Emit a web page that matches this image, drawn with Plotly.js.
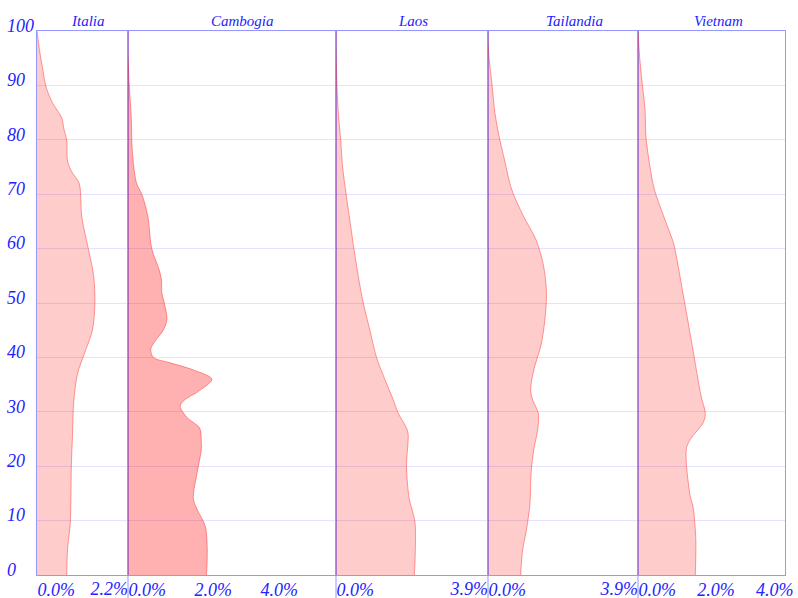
<!DOCTYPE html>
<html>
<head>
<meta charset="utf-8">
<script src="https://cdn.plot.ly/plotly-3.0.1.min.js"></script>
<style>html,body{margin:0;padding:0;background:#fff;}#chart{width:798px;height:598px;}</style>
</head>
<body>
<div id="chart"></div>
<script>
// Countries (panel titles)
const countries = ["Italia", "Cambogia", "Laos", "Tailandia", "Vietnam"];

// Age (y) and share of population in % (x) for each country
const italiaAge = [0, 5, 9, 14, 20, 26, 32, 37, 41, 45, 50, 55, 60, 66, 69, 72, 74, 76, 80, 82, 84, 87, 90, 93, 96, 100];
const italiaPct = [0.72, 0.74, 0.80, 0.82, 0.83, 0.86, 0.89, 0.98, 1.16, 1.34, 1.40, 1.37, 1.24, 1.08, 1.06, 1.02, 0.85, 0.74, 0.72, 0.65, 0.60, 0.36, 0.21, 0.14, 0.07, 0];

const cambogiaAge = [0, 5, 9, 12, 14, 19, 23, 24.5, 27, 29, 31, 32, 34, 36, 37.7, 39, 40, 41.5, 43, 45, 47, 50, 52, 54, 56, 60, 66, 70, 72, 78, 84, 90, 96, 100];
const cambogiaPct = [2.38, 2.40, 2.34, 2.10, 1.98, 2.10, 2.22, 2.22, 2.17, 1.78, 1.58, 1.68, 2.19, 2.54, 1.98, 1.28, 0.77, 0.69, 0.82, 1.07, 1.18, 1.10, 1.02, 1.02, 0.95, 0.72, 0.60, 0.42, 0.26, 0.13, 0.10, 0.04, 0, 0];

const laosAge = [0, 3, 9.5, 11.3, 14, 20, 26, 27.3, 29.7, 32.2, 35, 40, 45, 50, 55, 60, 65, 70, 75, 80, 85, 91, 95, 100];
const laosPct = [2.01, 2.03, 2.03, 1.98, 1.88, 1.81, 1.85, 1.79, 1.60, 1.47, 1.31, 1.04, 0.87, 0.70, 0.57, 0.46, 0.36, 0.26, 0.17, 0.12, 0.06, 0.02, 0.005, 0];

const tailandiaAge = [0, 4.6, 8.3, 13, 18.7, 23, 26.7, 29.7, 32.2, 34, 37.7, 42.3, 47, 52, 57, 61.6, 66, 71, 76, 80.6, 85, 90.4, 95, 98.3, 100];
const tailandiaPct = [0.85, 0.90, 1.00, 1.09, 1.12, 1.19, 1.29, 1.31, 1.16, 1.11, 1.19, 1.38, 1.48, 1.52, 1.44, 1.25, 0.92, 0.61, 0.44, 0.29, 0.18, 0.10, 0.03, 0, 0];

const vietnamAge = [0, 5.8, 8.3, 12.6, 14.4, 21, 23.6, 25.4, 27.9, 29.7, 32.8, 42.3, 51.8, 61, 62.8, 66, 71, 75.7, 80.6, 85.5, 91, 95, 100];
const vietnamPct = [1.95, 1.97, 1.95, 1.87, 1.78, 1.64, 1.66, 1.84, 2.21, 2.29, 2.15, 1.84, 1.53, 1.21, 1.09, 0.87, 0.55, 0.39, 0.27, 0.24, 0.13, 0.06, 0];

// Axis ranges (%) and tick values
const xRanges = [[0, 2.2], [0, 6.3], [0, 3.9], [0, 3.9], [0, 5]];
const xTicks = [[0], [0, 2, 4], [0], [0], [0, 2, 4]];
const xEndTicks = [[2.2], null, [3.9], [3.9], null];
const yTicks = [0, 10, 20, 30, 40, 50, 60, 70, 80, 90, 100];

const ages = [italiaAge, cambogiaAge, laosAge, tailandiaAge, vietnamAge];
const pcts = [italiaPct, cambogiaPct, laosPct, tailandiaPct, vietnamPct];
const pctLabel = v => v.toFixed(1) + '%';

// layout geometry
const W = 798, H = 598, ML = 37, MR = 13, MT = 31, MB = 23;
const plotW = W - ML - MR, plotH = H - MT - MB;
const edgesPx = [37, 128, 336, 488, 638, 785];
const dom = edgesPx.map(p => (p - ML) / plotW);
const titleCx = [88, 242, 413, 574, 718];

const blue = 'rgb(35,35,255)';
const lineCol = 'rgb(150,150,255)';
const gridCol = 'rgba(0,0,255,0.11)';
const fnt = {family: 'Liberation Serif', style: 'italic', color: blue, size: 18};

const traces = [];
const layout = {
  width: W, height: H,
  margin: {l: ML, r: MR, t: MT, b: MB, pad: 0},
  paper_bgcolor: '#fff', plot_bgcolor: '#fff',
  showlegend: false,
  font: fnt,
  yaxis: {
    range: [0, 100], tickvals: yTicks, ticktext: yTicks.map(String),
    showgrid: true, gridcolor: gridCol, gridwidth: 1,
    zeroline: false, showline: true, linecolor: lineCol, linewidth: 1, mirror: 'all',
    ticks: '', ticklabelposition: 'inside top', ticklabelstandoff: -30, ticklabelshift: 7,
    ticklabeloverflow: 'allow',
    tickfont: fnt, anchor: 'x', fixedrange: true
  },
  shapes: [], annotations: []
};

countries.forEach((c, i) => {
  const ax = i === 0 ? 'x' : 'x' + (i + 1);
  const axKey = i === 0 ? 'xaxis' : 'xaxis' + (i + 1);
  traces.push({
    type: 'scatter', mode: 'lines', x: pcts[i], y: ages[i],
    xaxis: ax, yaxis: 'y',
    line: {shape: 'spline', smoothing: 0.9, color: 'rgba(255,0,0,0.38)', width: 1},
    fill: 'tozerox',
    fillcolor: i === 1 ? 'rgba(255,0,0,0.31)' : 'rgba(255,0,0,0.2)',
    hoverinfo: 'skip'
  });
  layout[axKey] = {
    domain: [dom[i], dom[i + 1]], range: xRanges[i], anchor: 'y',
    tickvals: xTicks[i], ticktext: xTicks[i].map(pctLabel),
    ticks: '', ticklabelposition: 'outside right', ticklabeloverflow: 'allow', ticklabelstandoff: -2,
    showgrid: false, zeroline: false, showline: true, linecolor: lineCol, linewidth: 1, mirror: true,
    tickfont: fnt, fixedrange: true
  };
  layout.annotations.push({
    text: c, xref: 'paper', yref: 'paper', x: (titleCx[i] - ML) / plotW, y: 1,
    xanchor: 'center', yanchor: 'middle', yshift: 10, showarrow: false,
    font: {family: 'Liberation Serif', style: 'italic', color: blue, size: 15}
  });
  if (i > 0) {
    layout.shapes.push({
      type: 'line', xref: 'paper', yref: 'paper', x0: dom[i], x1: dom[i], y0: 0, y1: -MB / plotH,
      line: {color: lineCol, width: 1}
    });
  }
});

// extra overlay axes for the flush-right end labels
let k = 6;
xEndTicks.forEach((t, i) => {
  if (!t) return;
  const base = i === 0 ? 'x' : 'x' + (i + 1);
  const ax = 'x' + k;
  traces.push({type: 'scatter', mode: 'lines', x: [], y: [], xaxis: ax, yaxis: 'y', hoverinfo: 'skip'});
  layout['xaxis' + k] = {
    overlaying: base, domain: [dom[i], dom[i + 1]], range: xRanges[i], anchor: 'y',
    tickvals: t, ticktext: t.map(pctLabel),
    ticks: '', ticklabelposition: 'outside left', ticklabeloverflow: 'allow', ticklabelstandoff: 1,
    showgrid: false, zeroline: false, showline: false,
    tickfont: fnt, fixedrange: true
  };
  k++;
});

Plotly.newPlot('chart', traces, layout, {displayModeBar: false, staticPlot: true});
</script>
</body>
</html>
